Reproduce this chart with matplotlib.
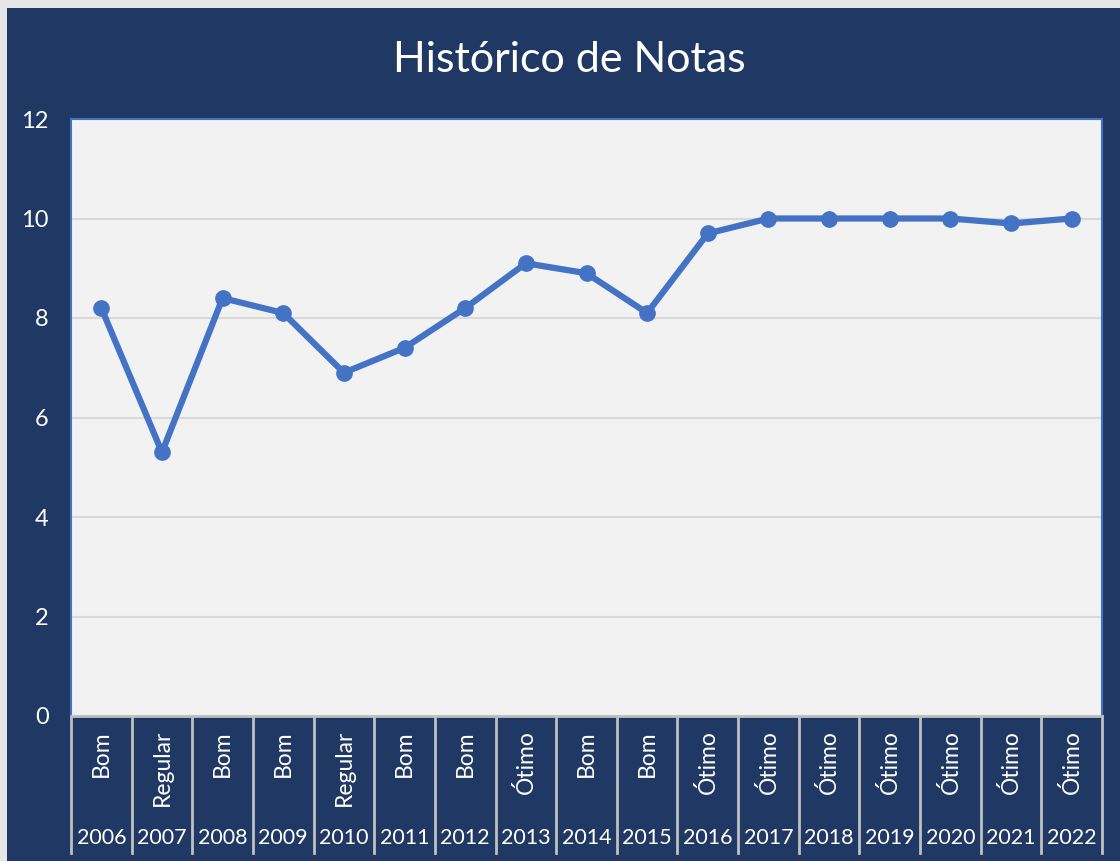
import matplotlib
matplotlib.use("Agg")
import matplotlib.pyplot as plt
from matplotlib.patches import Rectangle
from matplotlib.lines import Line2D

plt.rcParams["font.family"] = ["Lato", "DejaVu Sans"]

anos = ["2006", "2007", "2008", "2009", "2010", "2011", "2012", "2013", "2014",
        "2015", "2016", "2017", "2018", "2019", "2020", "2021", "2022"]
conceitos = ["Bom", "Regular", "Bom", "Bom", "Regular", "Bom", "Bom", "Ótimo", "Bom",
             "Bom", "Ótimo", "Ótimo", "Ótimo", "Ótimo", "Ótimo", "Ótimo", "Ótimo"]
notas = [8.2, 5.3, 8.4, 8.1, 6.9, 7.4, 8.2, 9.1, 8.9, 8.1, 9.7, 10, 10, 10, 10, 9.9, 10]

navy = "#203864"
azul = "#4472C4"
cinza = "#BFBFBF"

fig = plt.figure(figsize=(11.2, 8.61), dpi=100)
fig.patch.set_facecolor(navy)
# borda clara no topo e à esquerda
fig.patches.append(Rectangle((0, 1 - 8 / 861), 1, 8 / 861, transform=fig.transFigure,
                             facecolor="#E6E6E6", edgecolor="none"))
fig.patches.append(Rectangle((0, 0), 7 / 1120, 1, transform=fig.transFigure,
                             facecolor="#E6E6E6", edgecolor="none"))

ax = fig.add_axes([71 / 1120, 145 / 861, 1031 / 1120, 597 / 861])
ax.set_zorder(2)
ax.set_facecolor("#F2F2F2")

x = list(range(len(anos)))
ax.plot(x, notas, color=azul, lw=4.5, marker="o", ms=11, solid_capstyle="round", zorder=3)

ax.set_xlim(-0.5, len(anos) - 0.5)
ax.set_ylim(0, 12)
ax.set_yticks(range(0, 13, 2))
ax.yaxis.grid(True, color="#D9D9D9", lw=1.5)
ax.set_axisbelow(True)
ax.tick_params(axis="y", length=0, colors="white", labelsize=17, pad=16)
ax.tick_params(axis="x", length=0, labelbottom=False)

for s in ["top", "left", "right"]:
    ax.spines[s].set_color(azul)
    ax.spines[s].set_linewidth(1.5)
ax.spines["bottom"].set_color(cinza)
ax.spines["bottom"].set_linewidth(2)

# eixo de categorias em dois níveis
trans = ax.get_xaxis_transform()
y0 = 0
y_fim = -(853 - 716) / 597
for i in range(len(anos) + 1):
    ax.add_line(Line2D([i - 0.5, i - 0.5], [y0, y_fim], transform=trans, color=cinza,
                       lw=2, clip_on=False))
for i, (c, a) in enumerate(zip(conceitos, anos)):
    ax.text(i, -(730 - 716) / 597, c, transform=trans, rotation=90, ha="center", va="top",
            color="white", fontsize=16.5)
    ax.text(i, -(838 - 716) / 597, a, transform=trans, ha="center", va="center",
            color="white", fontsize=15.5)

fig.text(569 / 1120, 1 - 60 / 861, "Histórico de Notas", ha="center", va="center",
         color="white", fontsize=31)

fig.savefig("out.png", dpi=100, facecolor=fig.get_facecolor())
